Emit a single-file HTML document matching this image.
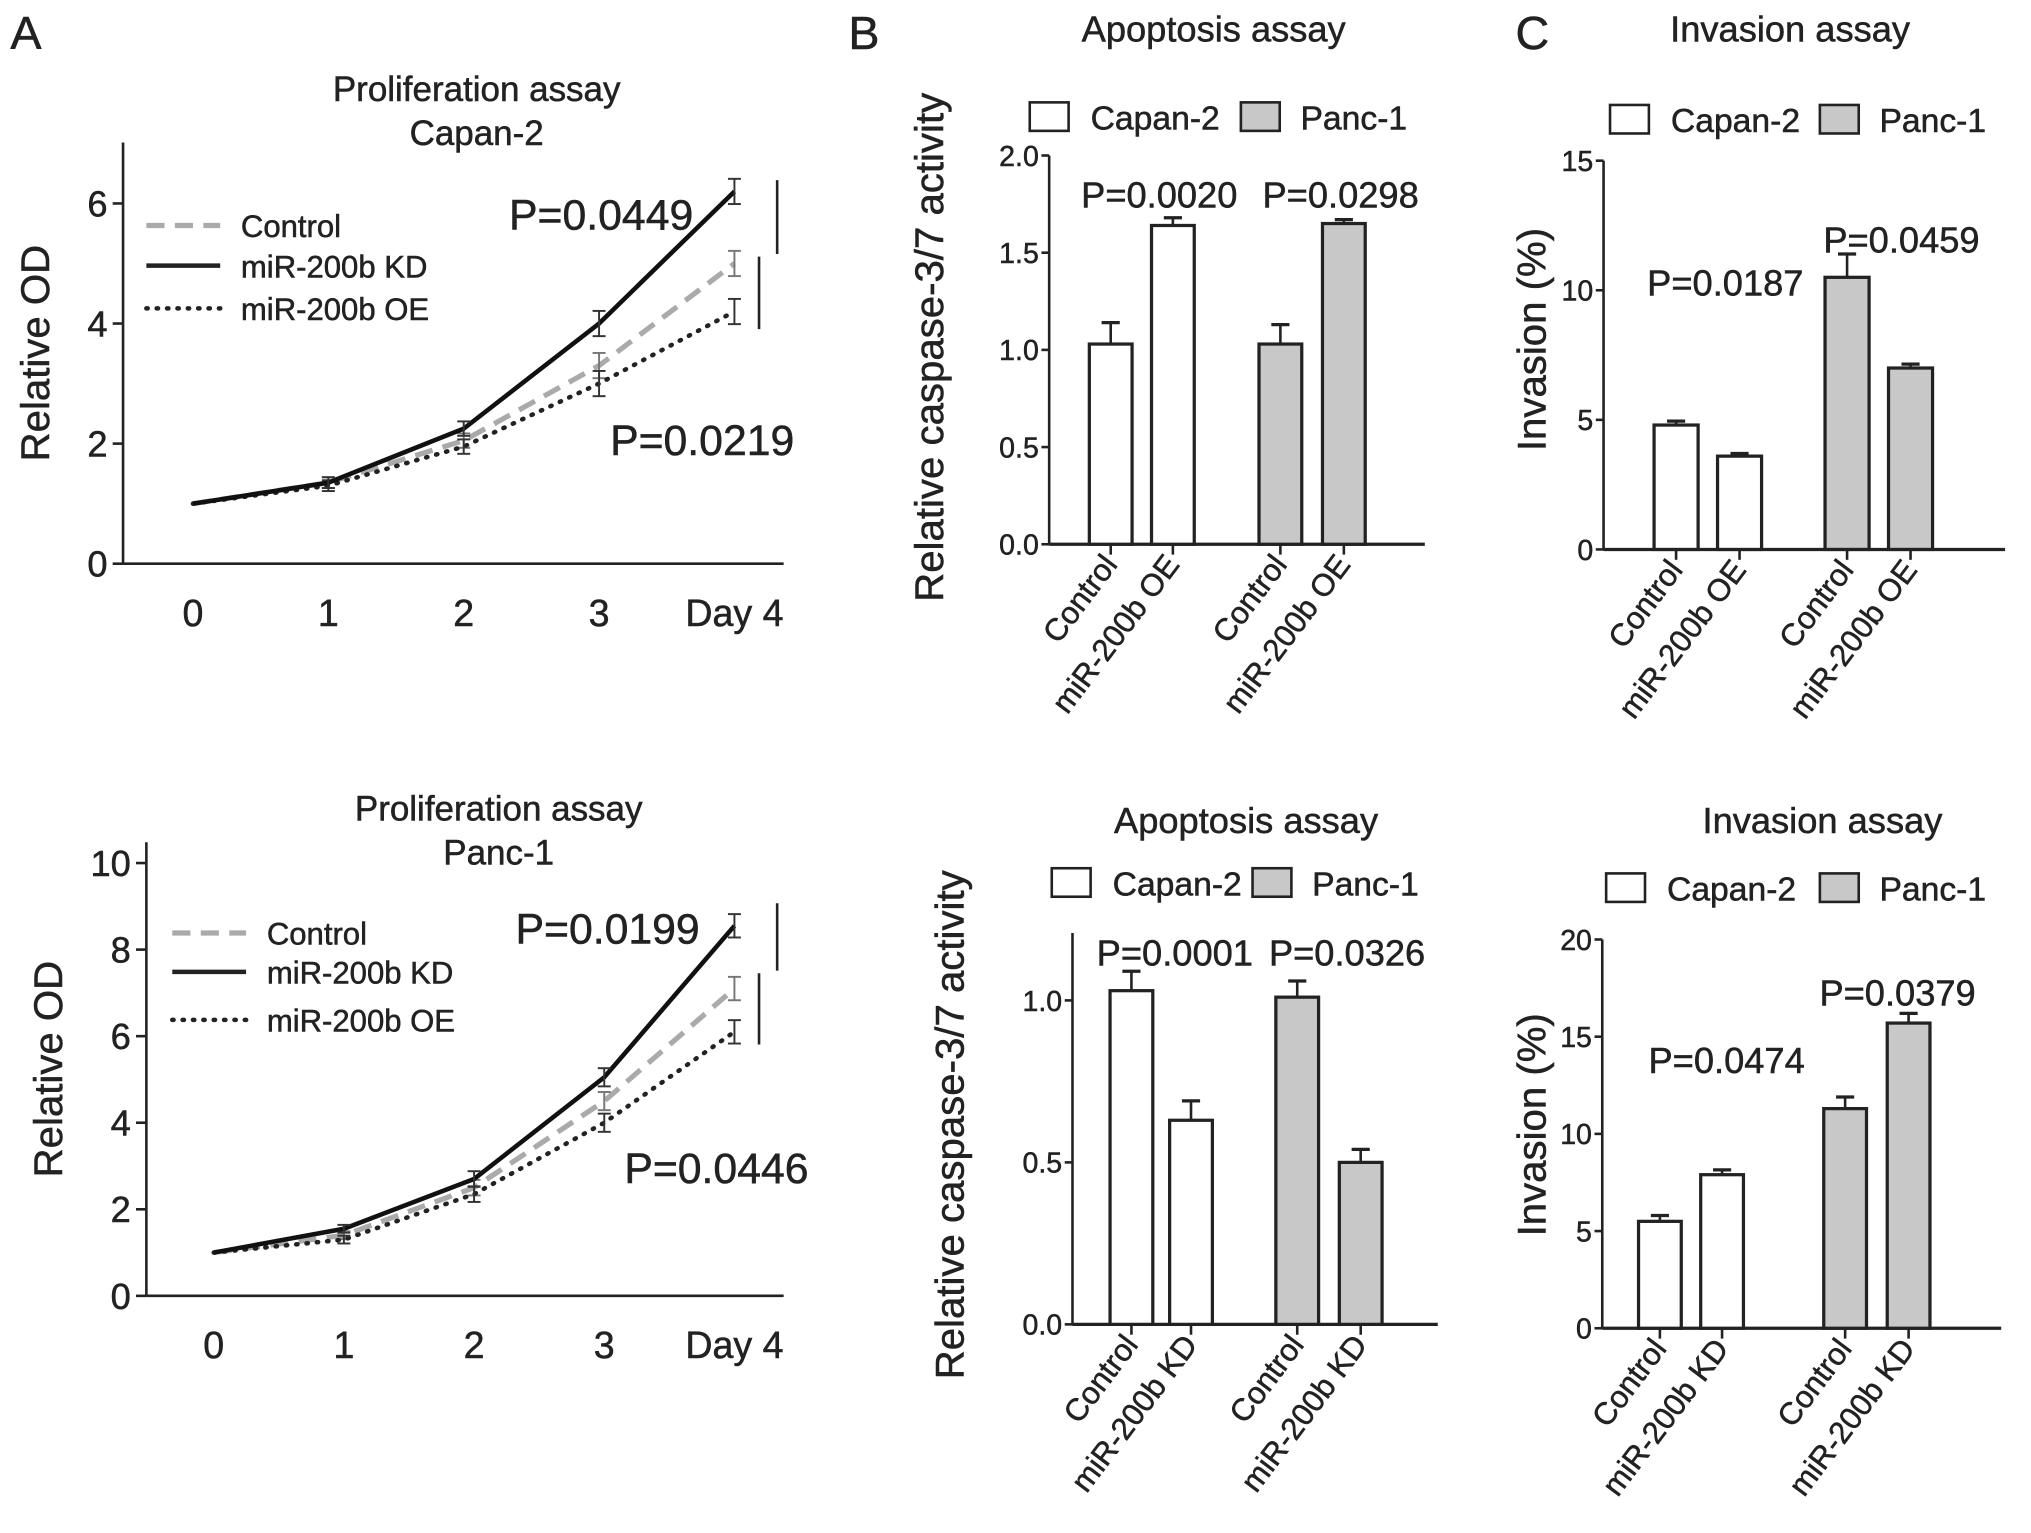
<!DOCTYPE html>
<html><head><meta charset="utf-8"><style>
html,body{margin:0;padding:0;background:#fff}
svg{display:block}
text{font-family:"Liberation Sans",Arial,sans-serif;fill:#222;stroke:#222;stroke-width:0.4}
</style></head><body>
<svg id="fig" width="2031" height="1533" viewBox="0 0 1568 1183" preserveAspectRatio="none" xmlns="http://www.w3.org/2000/svg"></svg>
<script>
// ---- data ----
const days = [0,1,2,3,4];
const dayLabels = ["0","1","2","3","Day 4"];
const capControl = [1,1.35,2.05,3.3,5.0];
const capKD = [1,1.35,2.25,4.0,6.2];
const capOE = [1,1.3,1.95,3.0,4.2];
const capErr = [0,0.15,0.2,0.35,0.35];
const panControl = [1,1.4,2.5,4.5,7.1];
const panKD = [1,1.55,2.7,5.05,8.55];
const panOE = [1,1.3,2.35,4.0,6.1];
const panErr = [0,0.15,0.3,0.35,0.45];
const apoOEVals = [1.03,1.64,1.03,1.65];
const apoOEErr = [0.11,0.04,0.1,0.02];
const apoKDVals = [1.03,0.63,1.01,0.5];
const apoKDErr = [0.06,0.06,0.05,0.04];
const invOEVals = [4.8,3.6,10.5,7.0];
const invOEErr = [0.15,0.1,0.9,0.15];
const invKDVals = [5.5,7.9,11.3,15.7];
const invKDErr = [0.3,0.25,0.6,0.5];
const oeCats = ["Control","miR-200b OE","Control","miR-200b OE"];
const kdCats = ["Control","miR-200b KD","Control","miR-200b KD"];
const barFills = ["#fff","#fff","#c8c8c8","#c8c8c8"];

const svg = document.getElementById('fig');
const NS = "http://www.w3.org/2000/svg";
function el(tag, attrs, parent){
  const e = document.createElementNS(NS, tag);
  for (const k in attrs) e.setAttribute(k, attrs[k]);
  (parent||svg).appendChild(e);
  return e;
}
function txt(x,y,s,size,anchor,name,extra){
  const t = el('text',{x:x,y:y,'font-size':size,'text-anchor':anchor||'middle'});
  t.textContent = s;
  
  
  if (extra) for (const k in extra) t.setAttribute(k, extra[k]);
  return t;
}
function line(x1,y1,x2,y2,w,name,extra){
  const l = el('line',{x1:x1,y1:y1,x2:x2,y2:y2,stroke:'#222','stroke-width':w||2});
  
  
  if (extra) for (const k in extra) l.setAttribute(k, extra[k]);
  return l;
}

// panel letters
txt(8,38,"A",36,'start','panel-label-a',{'stroke-width':0});
txt(655,38,"B",36,'start','panel-label-b',{'stroke-width':0});
txt(1170,38,"C",36,'start','panel-label-c',{'stroke-width':0});

// ---- line charts ----
function lineChart(cfg){
  const xs = d => cfg.x0 + (cfg.x4 - cfg.x0) * d / 4;
  const ys = v => cfg.yBase - (v / cfg.yMax) * (cfg.yBase - cfg.yTop);
  line(cfg.ax, cfg.axTop, cfg.ax, cfg.yBase, 2, 'y-axis');
  line(cfg.ax, cfg.yBase, 605, cfg.yBase, 2, 'x-axis');
  cfg.yTicks.forEach(v=>{
    line(cfg.ax-8, ys(v), cfg.ax, ys(v), 2, 'y-tick');
    txt(cfg.ax-12, ys(v)+10, String(v), 28, 'end', 'y-tick-label');
  });
  days.forEach((d,i)=>{
    txt(xs(d), cfg.yBase+48, dayLabels[i], 29, 'middle', 'x-tick-label');
  });
  txt(0,0,"Relative OD",31,'middle','y-axis-title',{transform:`translate(${cfg.ylabX},${(cfg.axTop+cfg.yBase)/2}) rotate(-90)`});
  txt(cfg.titleX, cfg.titleY, "Proliferation assay", 27, 'middle', 'chart-title',{'stroke-width':0.7});
  txt(cfg.titleX, cfg.titleY+34, cfg.sub, 27, 'middle', 'chart-subtitle',{'stroke-width':0.7});
  const series = [
    {v:cfg.ctrl, st:{stroke:'#aaa','stroke-width':4,'stroke-dasharray':'14 8'}, n:'control-line'},
    {v:cfg.oe, st:{stroke:'#222','stroke-width':3.5,'stroke-dasharray':'1 7','stroke-linecap':'round'}, n:'oe-line'},
    {v:cfg.kd, st:{stroke:'#111','stroke-width':3.5}, n:'kd-line'}
  ];
  series.forEach(s=>{
    const pts = days.map((d,i)=>xs(d)+','+ys(s.v[i])).join(' ');
    const p = el('polyline', Object.assign({points:pts, fill:'none'}, s.st));
    
    
    days.forEach((d,i)=>{
      if (!cfg.err[i]) return;
      const x = xs(d), e = cfg.err[i]*0.6;
      const c = s.n==='control-line' ? '#777' : '#333';
      line(x, ys(s.v[i]+e), x, ys(s.v[i]-e), 1.5, 'error-bar', {stroke:c});
      line(x-5, ys(s.v[i]+e), x+5, ys(s.v[i]+e), 1.5, 'error-cap', {stroke:c});
      line(x-5, ys(s.v[i]-e), x+5, ys(s.v[i]-e), 1.5, 'error-cap', {stroke:c});
    });
  });
  const lg = cfg.legend;
  line(lg.x, lg.ys[0], lg.x+57, lg.ys[0], 4, 'legend-control-swatch', {stroke:'#aaa','stroke-dasharray':'14 8'});
  line(lg.x, lg.ys[1], lg.x+57, lg.ys[1], 3.5, 'legend-kd-swatch');
  line(lg.x, lg.ys[2], lg.x+57, lg.ys[2], 3.5, 'legend-oe-swatch', {'stroke-dasharray':'1 7','stroke-linecap':'round'});
  txt(lg.x+73, lg.ys[0]+9, "Control", 24, 'start', 'legend-control');
  txt(lg.x+73, lg.ys[1]+9, "miR-200b KD", 24, 'start', 'legend-kd');
  txt(lg.x+73, lg.ys[2]+9, "miR-200b OE", 24, 'start', 'legend-oe');
  txt(cfg.p1[0], cfg.p1[1], cfg.p1[2], 33, 'start', 'p-value-kd',{'stroke-width':0.8});
  txt(cfg.p2[0], cfg.p2[1], cfg.p2[2], 33, 'start', 'p-value-oe',{'stroke-width':0.8});
  line(600, cfg.b1[0], 600, cfg.b1[1], 2, 'significance-bracket-kd');
  line(586, cfg.b2[0], 586, cfg.b2[1], 2, 'significance-bracket-oe');
}
lineChart({ax:95, axTop:110, yBase:435, yTop:157, yMax:6, x0:149, x4:567,
  yTicks:[0,2,4,6], ylabX:38, titleX:368, titleY:78, sub:"Capan-2",
  ctrl:capControl, kd:capKD, oe:capOE, err:capErr,
  legend:{x:113, ys:[174,205,238]},
  p1:[393,177,"P=0.0449"], p2:[471,351,"P=0.0219"], b1:[139,196], b2:[198,254]});
lineChart({ax:113, axTop:650, yBase:1000, yTop:666, yMax:10, x0:165, x4:567,
  yTicks:[0,2,4,6,8,10], ylabX:48, titleX:385, titleY:633, sub:"Panc-1",
  ctrl:panControl, kd:panKD, oe:panOE, err:panErr,
  legend:{x:133, ys:[720,750,787]},
  p1:[398,728,"P=0.0199"], p2:[482,913,"P=0.0446"], b1:[697,749], b2:[751,806]});

// ---- bar charts ----
function barChart(cfg){
  const ys = v => cfg.yBase - (v / cfg.yMax) * (cfg.yBase - cfg.yTop);
  txt(cfg.titleX, cfg.titleY, cfg.title, 28, 'middle', 'chart-title');
  const b1 = el('rect',{x:cfg.lg[0],y:cfg.lgY-11,width:30,height:22,fill:'#fff',stroke:'#222','stroke-width':2});
   
  const b2 = el('rect',{x:cfg.lg[1],y:cfg.lgY-11,width:30,height:22,fill:'#c8c8c8',stroke:'#222','stroke-width':2});
   
  txt(cfg.lg[0]+47, cfg.lgY+10, "Capan-2", 26, 'start', 'legend-capan2');
  txt(cfg.lg[1]+46, cfg.lgY+10, "Panc-1", 26, 'start', 'legend-panc1');
  line(cfg.ax, cfg.yTop - cfg.extra, cfg.ax, cfg.yBase, 2, 'y-axis');
  line(cfg.ax, cfg.yBase, cfg.axEnd, cfg.yBase, 2.5, 'x-axis');
  cfg.ticks.forEach((v,i)=>{
    line(cfg.ax-6, ys(v), cfg.ax, ys(v), 2, 'y-tick');
    txt(cfg.ax-8, ys(v)+8, cfg.tickLabels[i], 22, 'end', 'y-tick-label',{'stroke-width':0.2});
  });
  txt(0,0,cfg.ylab,31,'middle','y-axis-title',{transform:`translate(${cfg.ylabX},${cfg.ylabY}) rotate(-90)`});
  cfg.vals.forEach((v,i)=>{
    const x = cfg.bx[i], w = cfg.bw, cx = x + w/2;
    const top = ys(v + cfg.err[i]);
    line(cx, top, cx, ys(v), 2, 'error-bar');
    line(cx-7, top, cx+7, top, 2.5, 'error-cap');
    const r = el('rect',{x:x,y:ys(v),width:w,height:cfg.yBase-ys(v),fill:barFills[i],stroke:'#222','stroke-width':2.5});
    
    
    line(cx, cfg.yBase, cx, cfg.yBase+8, 2, 'x-tick');
    txt(0,0,cfg.cats[i],24,'end','x-tick-label',{transform:`translate(${cx+6},${cfg.yBase+16}) rotate(-53)`});
  });
  txt(cfg.p1[0], cfg.p1[1], cfg.p1[2], 28, 'middle', 'p-value-capan2',{'stroke-width':0.7});
  txt(cfg.p2[0], cfg.p2[1], cfg.p2[2], 28, 'middle', 'p-value-panc1',{'stroke-width':0.7});
}
barChart({title:"Apoptosis assay", titleX:937, titleY:32, lg:[795,958], lgY:90,
  ax:810, yBase:420, yTop:120, yMax:2.0, extra:0, axEnd:1100,
  ticks:[0,0.5,1,1.5,2], tickLabels:["0.0","0.5","1.0","1.5","2.0"],
  ylab:"Relative caspase-3/7 activity", ylabX:728, ylabY:268,
  vals:apoOEVals, err:apoOEErr, bx:[841,889,972,1021], bw:33, cats:oeCats,
  p1:[895,160,"P=0.0020"], p2:[1035,160,"P=0.0298"]});
barChart({title:"Invasion assay", titleX:1382, titleY:32, lg:[1243,1405], lgY:92,
  ax:1238, yBase:424, yTop:124, yMax:15, extra:0, axEnd:1548,
  ticks:[0,5,10,15], tickLabels:["0","5","10","15"],
  ylab:"Invasion (%)", ylabX:1193, ylabY:262,
  vals:invOEVals, err:invOEErr, bx:[1277,1326,1409,1458], bw:34, cats:oeCats,
  p1:[1332,228,"P=0.0187"], p2:[1468,195,"P=0.0459"]});
barChart({title:"Apoptosis assay", titleX:962, titleY:643, lg:[812,967], lgY:681,
  ax:828, yBase:1022, yTop:772, yMax:1.0, extra:52, axEnd:1110,
  ticks:[0,0.5,1], tickLabels:["0.0","0.5","1.0"],
  ylab:"Relative caspase-3/7 activity", ylabX:744, ylabY:868,
  vals:apoKDVals, err:apoKDErr, bx:[857,903,985,1034], bw:33, cats:kdCats,
  p1:[907,745,"P=0.0001"], p2:[1040,745,"P=0.0326"]});
barChart({title:"Invasion assay", titleX:1407, titleY:643, lg:[1240,1405], lgY:685,
  ax:1237, yBase:1025, yTop:725, yMax:20, extra:0, axEnd:1545,
  ticks:[0,5,10,15,20], tickLabels:["0","5","10","15","20"],
  ylab:"Invasion (%)", ylabX:1193, ylabY:868,
  vals:invKDVals, err:invKDErr, bx:[1265,1313,1408,1457], bw:33, cats:kdCats,
  p1:[1333,828,"P=0.0474"], p2:[1465,776,"P=0.0379"]});
</script>
</body></html>
